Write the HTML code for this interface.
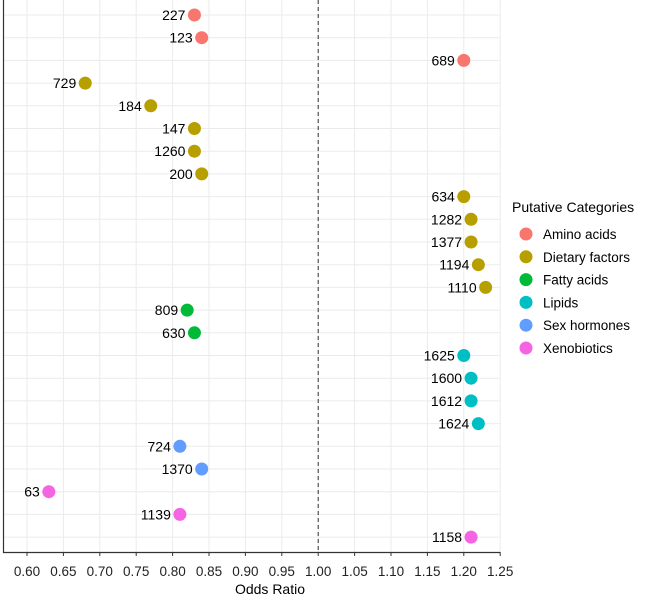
<!DOCTYPE html>
<html><head><meta charset="utf-8"><style>
body{margin:0;background:#fff;font-family:"Liberation Sans",Arial,sans-serif}
svg text{font-family:"Liberation Sans",Arial,sans-serif}
</style></head><body>
<svg id="chart" width="669" height="597" xmlns="http://www.w3.org/2000/svg"></svg>
<script>
const ids=["227","123","689","729","184","147","1260","200","634","1282","1377","1194","1110","809","630","1625","1600","1612","1624","724","1370","63","1139","1158"];
const oddsRatios=[0.83,0.84,1.20,0.68,0.77,0.83,0.83,0.84,1.20,1.21,1.21,1.22,1.23,0.82,0.83,1.20,1.21,1.21,1.22,0.81,0.84,0.63,0.81,1.21];
const cats=["Amino acids","Amino acids","Amino acids","Dietary factors","Dietary factors","Dietary factors","Dietary factors","Dietary factors","Dietary factors","Dietary factors","Dietary factors","Dietary factors","Dietary factors","Fatty acids","Fatty acids","Lipids","Lipids","Lipids","Lipids","Sex hormones","Sex hormones","Xenobiotics","Xenobiotics","Xenobiotics"];
const categories=["Amino acids","Dietary factors","Fatty acids","Lipids","Sex hormones","Xenobiotics"];
const colors=["#F8766D","#B79F00","#00BA38","#00BFC4","#619CFF","#F564E3"];
const ticks=[0.60,0.65,0.70,0.75,0.80,0.85,0.90,0.95,1.00,1.05,1.10,1.15,1.20,1.25];
const svg=document.getElementById('chart');const NS='http://www.w3.org/2000/svg';
function mk(t,a,p){const e=document.createElementNS(NS,t);for(const k in a)e.setAttribute(k,a[k]);(p||svg).appendChild(e);return e;}
const x=v=>27+(v-0.6)*728;
const y=i=>15+i*22.7;
const grid=mk('g',{});


ticks.forEach(t=>mk('line',{x1:x(t),x2:x(t),y1:0,y2:552,stroke:'#ebebeb','stroke-width':1},grid));
ids.forEach((d,i)=>mk('line',{x1:3,x2:500,y1:y(i),y2:y(i),stroke:'#ebebeb','stroke-width':1},grid));
const ref=mk('line',{x1:x(1),x2:x(1),y1:0,y2:552,stroke:'#333','stroke-dasharray':'4,3','stroke-width':1});


const ax=mk('path',{d:'M3.5,0V552.5H500',stroke:'#333',fill:'none','stroke-width':1.2});


ticks.forEach(t=>{mk('line',{x1:x(t),x2:x(t),y1:552,y2:556,stroke:'#333'});
const tx=mk('text',{x:x(t),y:576,'text-anchor':'middle','font-size':13.5,fill:'#222'});tx.textContent=t.toFixed(2);

});
const xt=mk('text',{x:270,y:594,'text-anchor':'middle','font-size':14,fill:'#000'});xt.textContent='Odds Ratio';


ids.forEach((d,i)=>{const c=colors[categories.indexOf(cats[i])];
const p=mk('circle',{cx:x(oddsRatios[i]),cy:y(i),r:6.5,fill:c});


const l=mk('text',{x:x(oddsRatios[i])-9,y:y(i)+5,'text-anchor':'end','font-size':14,fill:'#000'});l.textContent=d;

});
const lg=mk('g',{});


const lt=mk('text',{x:512,y:212,'font-size':14,fill:'#000'},lg);lt.textContent='Putative Categories';


categories.forEach((c,i)=>{const yy=234+i*22.8;
mk('circle',{cx:526,cy:yy,r:6.5,fill:colors[i]},lg);
const t=mk('text',{x:543,y:yy+5,'font-size':13.5,fill:'#000'},lg);t.textContent=c;

});
</script>
</body></html>
